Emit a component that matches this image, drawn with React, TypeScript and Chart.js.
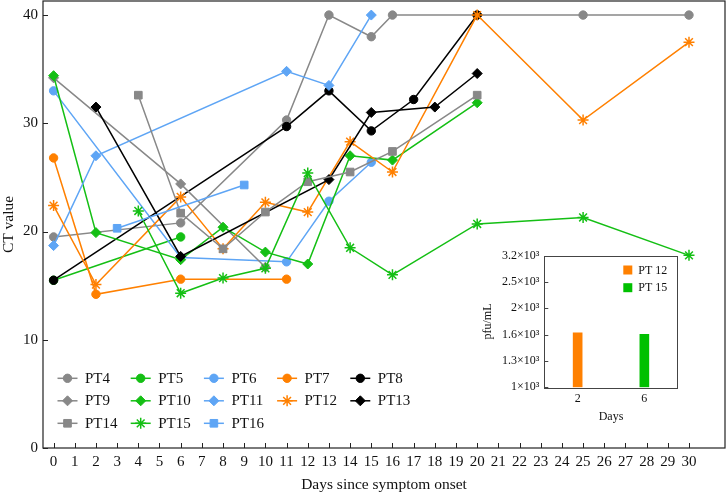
import React, { useEffect, useRef } from 'react';
import { Chart, registerables } from 'chart.js';
import { drawPoint } from 'chart.js/helpers';

Chart.register(...registerables);

const FONT = "'Liberation Serif', 'Times New Roman', Times, serif";

// ---------- main chart data ----------
const xTickValues = [0, 1, 2, 3, 4, 5, 6, 7, 8, 9, 10, 11, 12, 13, 14, 15, 16, 17, 18, 19, 20, 21, 22, 23, 24, 25, 26, 27, 28, 29, 30];
const yTickValues = [0, 10, 20, 30, 40];

const patientNames = ['PT4', 'PT5', 'PT6', 'PT7', 'PT8', 'PT9', 'PT10', 'PT11', 'PT12', 'PT13', 'PT14', 'PT15', 'PT16'];

const pt4Days = [0, 6, 11, 13, 15, 16, 20, 25, 30];
const pt4Ct = [19.5, 20.8, 30.3, 40, 38, 40, 40, 40, 40];
const pt5Days = [0, 6];
const pt5Ct = [15.5, 19.5];
const pt6Days = [0, 6, 11, 13, 15];
const pt6Ct = [33.0, 17.6, 17.2, 22.8, 26.4];
const pt7Days = [0, 2, 6, 11];
const pt7Ct = [26.8, 14.2, 15.6, 15.6];
const pt8Days = [0, 11, 13, 15, 17, 20];
const pt8Ct = [15.5, 29.7, 33.0, 29.3, 32.2, 40];
const pt9Days = [0, 6, 10];
const pt9Ct = [34.2, 24.4, 16.7];
const pt10Days = [0, 2, 6, 8, 10, 12, 14, 16, 20];
const pt10Ct = [34.4, 19.9, 17.4, 20.4, 18.1, 17.0, 27.0, 26.6, 31.9];
const pt11Days = [0, 2, 11, 13, 15];
const pt11Ct = [18.7, 27.0, 34.8, 33.5, 40];
const pt12Days = [0, 2, 6, 8, 10, 12, 14, 16, 20, 25, 30];
const pt12Ct = [22.4, 15.1, 23.2, 18.4, 22.7, 21.8, 28.3, 25.5, 40, 30.3, 37.5];
const pt13Days = [2, 6, 13, 15, 18, 20];
const pt13Ct = [31.5, 17.7, 24.8, 31.0, 31.5, 34.6];
const pt14Days = [4, 6, 8, 10, 12, 14, 16, 20];
const pt14Ct = [32.6, 21.7, 18.4, 21.8, 24.6, 25.5, 27.4, 32.6];
const pt15Days = [4, 6, 8, 10, 12, 14, 16, 20, 25, 30];
const pt15Ct = [21.9, 14.3, 15.7, 16.6, 25.4, 18.5, 16.0, 20.7, 21.3, 17.8];
const pt16Days = [3, 9];
const pt16Ct = [20.3, 24.3];

const allDays = [pt4Days, pt5Days, pt6Days, pt7Days, pt8Days, pt9Days, pt10Days, pt11Days, pt12Days, pt13Days, pt14Days, pt15Days, pt16Days];
const allCt = [pt4Ct, pt5Ct, pt6Ct, pt7Ct, pt8Ct, pt9Ct, pt10Ct, pt11Ct, pt12Ct, pt13Ct, pt14Ct, pt15Ct, pt16Ct];

// ---------- inset data ----------
const insetDays = ['2', '6'];
const insetPt12 = [1610, null];
const insetPt15 = [null, 1590];
const insetTickValues = [1000, 1258.9, 1584.9, 1995.3, 2511.9, 3162.3];
const insetTickLabels = ['1×10³', '1.3×10³', '1.6×10³', '2×10³', '2.5×10³', '3.2×10³'];

// ---------- styles ----------
const GRAY = '#888888';
const GREEN = '#14bf14';
const BLUE = '#5ea5f5';
const ORANGE = '#ff8000';
const BLACK = '#000000';
const colors = [GRAY, GREEN, BLUE, ORANGE, BLACK, GRAY, GREEN, BLUE, ORANGE, BLACK, GRAY, GREEN, BLUE];
const styles = ['circle', 'circle', 'circle', 'circle', 'circle', 'rectRot', 'rectRot', 'rectRot', 'star', 'rectRot', 'rect', 'star', 'rect'];
const radiusFor = (s: string) => (s === 'circle' ? 4.2 : s === 'rectRot' ? 5 : s === 'star' ? 5.5 : 5.4);

const mainPlugin = {
  id: 'mainDecor',
  afterDraw(chart: any) {
    const { ctx, chartArea } = chart;
    const xs = chart.scales.x;
    const ys = chart.scales.y;
    ctx.save();
    ctx.strokeStyle = '#222';
    ctx.lineWidth = 1.2;
    ctx.strokeRect(chartArea.left, chartArea.top, chartArea.right - chartArea.left, chartArea.bottom - chartArea.top);
    ctx.lineWidth = 1;
    ctx.beginPath();
    xTickValues.forEach((v) => {
      const px = Math.round(xs.getPixelForValue(v)) + 0.5;
      ctx.moveTo(px, chartArea.bottom);
      ctx.lineTo(px, chartArea.bottom - 5);
    });
    yTickValues.forEach((v) => {
      const py = Math.round(ys.getPixelForValue(v)) + 0.5;
      ctx.moveTo(chartArea.left, py);
      ctx.lineTo(chartArea.left + 5, py);
    });
    ctx.stroke();

    // legend
    const rowsY = [378.3, 400.8, 423.3];
    ctx.font = `15px ${FONT}`;
    ctx.textBaseline = 'middle';
    ctx.textAlign = 'left';
    chart.data.datasets.forEach((ds: any, i: number) => {
      const col = i % 5;
      const row = Math.floor(i / 5);
      const tx = 85 + col * 73.2;
      const y = rowsY[row];
      const mx = tx - 17.5;
      ctx.strokeStyle = ds.borderColor;
      ctx.lineWidth = 1.5;
      ctx.beginPath();
      ctx.moveTo(mx - 10, y);
      ctx.lineTo(mx + 10, y);
      ctx.stroke();
      ctx.fillStyle = ds.pointBackgroundColor;
      ctx.strokeStyle = ds.pointBorderColor;
      ctx.lineWidth = ds.pointBorderWidth;
      drawPoint(ctx, { pointStyle: ds.pointStyle, radius: ds.pointRadius, borderWidth: ds.pointBorderWidth, rotation: 0 } as any, mx, y);
      ctx.fillStyle = '#111';
      ctx.fillText(ds.label, tx, y + 0.5);
    });
    ctx.restore();
  },
};

const insetPlugin = {
  id: 'insetDecor',
  afterDraw(chart: any) {
    const { ctx, chartArea } = chart;
    const ys = chart.scales.y;
    ctx.save();
    ctx.strokeStyle = '#444';
    ctx.lineWidth = 1;
    ctx.strokeRect(Math.round(chartArea.left) + 0.5, Math.round(chartArea.top) + 0.5, Math.round(chartArea.right - chartArea.left), Math.round(chartArea.bottom - chartArea.top));
    ctx.beginPath();
    insetTickValues.forEach((v) => {
      const py = Math.round(ys.getPixelForValue(v)) + 0.5;
      ctx.moveTo(chartArea.left, py);
      ctx.lineTo(chartArea.left + 4, py);
    });
    ctx.stroke();
    // legend
    ctx.font = `12px ${FONT}`;
    ctx.textBaseline = 'middle';
    ctx.textAlign = 'left';
    const items = [
      { label: chart.data.datasets[0].label, color: chart.data.datasets[0].backgroundColor, y: 24 },
      { label: chart.data.datasets[1].label, color: chart.data.datasets[1].backgroundColor, y: 41.7 },
    ];
    items.forEach((it) => {
      ctx.fillStyle = it.color;
      ctx.fillRect(147.3, it.y - 4.5, 9, 9);
      ctx.fillStyle = '#111';
      ctx.fillText(it.label, 162.3, it.y + 0.5);
    });
    ctx.restore();
  },
};

export default function App() {
  const mainRef = useRef<HTMLCanvasElement | null>(null);
  const insetRef = useRef<HTMLCanvasElement | null>(null);

  useEffect(() => {
    Chart.defaults.font.family = FONT;
    Chart.defaults.color = '#111';

    const datasets = patientNames.map((name, i) => {
      const st = styles[i];
      return {
        label: name,
        data: allDays[i].map((d, j) => ({ x: d, y: allCt[i][j] })),
        borderColor: colors[i],
        backgroundColor: colors[i],
        borderWidth: 1.5,
        pointStyle: st,
        pointRadius: radiusFor(st),
        pointBackgroundColor: colors[i],
        pointBorderColor: colors[i],
        pointBorderWidth: st === 'star' ? 1.5 : 1,
        tension: 0,
        fill: false,
        clip: false,
        order: patientNames.length - i,
      };
    });

    const main = new Chart(mainRef.current as HTMLCanvasElement, {
      type: 'line',
      data: { datasets },
      options: {
        animation: false,
        responsive: false,
        layout: { autoPadding: false, padding: { top: 1, right: 1, left: 0, bottom: 0 } },
        plugins: { legend: { display: false }, tooltip: { enabled: false } },
        scales: {
          x: {
            type: 'linear',
            min: -0.5,
            max: 31.7,
            grid: { display: false, drawTicks: false },
            border: { display: false },
            afterBuildTicks: (s: any) => {
              s.ticks = xTickValues.map((v) => ({ value: v }));
            },
            afterFit: (s: any) => {
              s.height = 47;
              s.paddingLeft = 0;
              s.paddingRight = 0;
            },
            ticks: {
              autoSkip: false,
              maxRotation: 0,
              minRotation: 0,
              padding: 5,
              font: { size: 15 },
              color: '#111',
              callback: (v: any) => String(v),
            },
            title: {
              display: true,
              text: 'Days since symptom onset',
              font: { size: 15.5 },
              color: '#111',
              padding: { top: 0, bottom: 1 },
            },
          },
          y: {
            type: 'linear',
            min: 0,
            max: 41.3,
            grid: { display: false, drawTicks: false },
            border: { display: false },
            afterBuildTicks: (s: any) => {
              s.ticks = yTickValues.map((v) => ({ value: v }));
            },
            afterFit: (s: any) => {
              s.width = 43;
              s.paddingTop = 0;
              s.paddingBottom = 0;
            },
            ticks: {
              padding: 5,
              font: { size: 15 },
              color: '#111',
              callback: (v: any) => String(v),
            },
            title: {
              display: true,
              text: 'CT value',
              font: { size: 15.5 },
              color: '#111',
              padding: { top: 0, bottom: 0 },
            },
          },
        },
      },
      plugins: [mainPlugin],
    } as any);

    const inset = new Chart(insetRef.current as HTMLCanvasElement, {
      type: 'bar',
      data: {
        labels: insetDays,
        datasets: [
          { label: 'PT 12', data: insetPt12, backgroundColor: ORANGE, borderWidth: 0, barThickness: 9, grouped: false },
          { label: 'PT 15', data: insetPt15, backgroundColor: '#00c000', borderWidth: 0, barThickness: 9, grouped: false },
        ],
      },
      options: {
        animation: false,
        responsive: false,
        layout: { autoPadding: false, padding: { top: 9.7, right: 8.3, left: 0, bottom: 0 } },
        plugins: { legend: { display: false }, tooltip: { enabled: false } },
        scales: {
          x: {
            type: 'category',
            offset: true,
            grid: { display: false, drawTicks: false },
            border: { display: false },
            afterFit: (s: any) => {
              s.height = 38.7;
              s.paddingLeft = 0;
              s.paddingRight = 0;
            },
            ticks: { padding: 4, font: { size: 12 }, color: '#111', maxRotation: 0 },
            title: { display: true, text: 'Days', font: { size: 12 }, color: '#111', padding: { top: 0, bottom: 2 } },
          },
          y: {
            type: 'logarithmic',
            min: 1000,
            max: 3162.28,
            grid: { display: false, drawTicks: false },
            border: { display: false },
            afterBuildTicks: (s: any) => {
              s.ticks = insetTickValues.map((v) => ({ value: v }));
            },
            afterFit: (s: any) => {
              s.width = 68.3;
              s.paddingTop = 0;
              s.paddingBottom = 0;
            },
            ticks: {
              padding: 5,
              font: { size: 12 },
              color: '#111',
              callback: (_v: any, idx: number) => insetTickLabels[idx],
            },
            title: { display: true, text: 'pfu/mL', font: { size: 12 }, color: '#111', padding: { top: 5, bottom: 0 } },
          },
        },
      },
      plugins: [insetPlugin],
    } as any);

    return () => {
      main.destroy();
      inset.destroy();
    };
  }, []);

  return (
    <div style={{ position: 'fixed', left: 0, top: 0, width: 726, height: 495, background: '#fff' }}>
      <canvas ref={mainRef} width={726} height={495} style={{ position: 'absolute', left: 0, top: 0, width: 726, height: 495 }} />
      <canvas ref={insetRef} width={210} height={180} style={{ position: 'absolute', left: 476, top: 246, width: 210, height: 180 }} />
    </div>
  );
}
